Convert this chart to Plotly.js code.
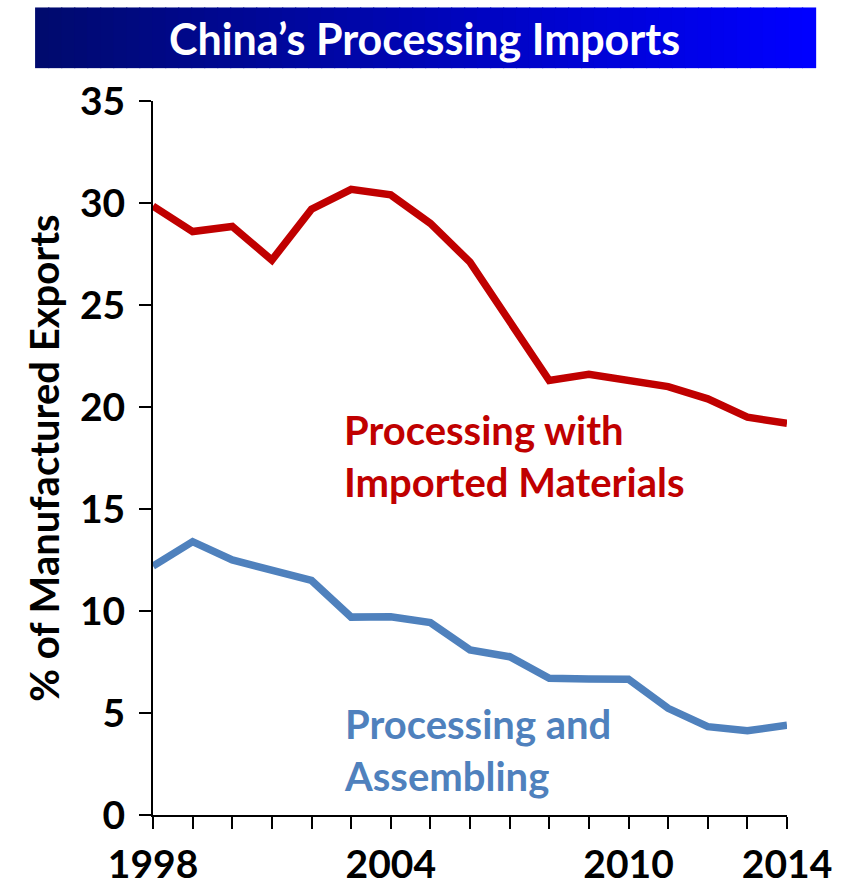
<!DOCTYPE html>
<html>
<head>
<meta charset="utf-8">
<script src="https://cdn.plot.ly/plotly-3.0.1.min.js"></script>
<style>html,body{margin:0;padding:0;background:#fff;}#chart{width:844px;height:889px;}</style>
</head>
<body>
<div id="chart"></div>
<script>
const years = [1998,1999,2000,2001,2002,2003,2004,2005,2006,2007,2008,2009,2010,2011,2012,2013,2014];
const importedMaterials = [29.85,28.6,28.85,27.2,29.7,30.67,30.4,29.0,27.1,24.2,21.3,21.6,21.3,21.0,20.4,19.5,19.2];
const assembling = [12.2,13.4,12.5,12.0,11.5,9.7,9.72,9.43,8.09,7.76,6.7,6.67,6.65,5.23,4.33,4.13,4.4];
const xTickLabels = {1998:'1998',2004:'2004',2010:'2010',2014:'2014'};
const titleText = 'China\u2019s Processing Imports';
const yTitle = '% of Manufactured Exports';
const redLabel = 'Processing with<br>Imported Materials';
const blueLabel = 'Processing and<br>Assembling';

const FONT = 'Lato, "Open Sans", sans-serif';
const RED = '#C00000', BLUE = '#4F81BD';

// banner gradient strips (decoration)
const shapes = [];
const bx0 = -0.186, bx1 = 1.044, by0 = 1.046, by1 = 1.131, N = 60;
for (let i = 0; i < N; i++) {
  const t = i / (N - 1);
  const b = Math.round(110 + (255 - 110) * t);
  const gg = Math.round(10 * (1 - t));
  shapes.push({type:'rect', xref:'paper', yref:'paper', layer:'below',
    x0: bx0 + (bx1 - bx0) * i / N, x1: bx0 + (bx1 - bx0) * (i + 1) / N + 0.002,
    y0: by0, y1: by1, fillcolor: `rgb(0,${gg},${b})`, line:{width:0}});
}

const traces = [
  {x: years, y: importedMaterials, type:'scatter', mode:'lines', line:{color:RED, width:7.5}, cliponaxis:false},
  {x: years, y: assembling, type:'scatter', mode:'lines', line:{color:BLUE, width:7.5}, cliponaxis:false}
];

const tickFont = {size:39, family:FONT, color:'#000', weight:'bold'};
const layout = {
  width:844, height:889,
  margin:{l:153, r:57, t:101, b:74},
  paper_bgcolor:'#fff', plot_bgcolor:'#fff',
  showlegend:false,
  font:{family:FONT, color:'#000'},
  xaxis:{range:[1998,2014], tickmode:'array', tickvals:years,
    ticktext: years.map(y => xTickLabels[y] || ''),
    ticks:'outside', ticklen:12, tickwidth:2, tickcolor:'#000',
    showline:true, linecolor:'#000', linewidth:2, showgrid:false, zeroline:false,
    tickfont:tickFont, ticklabelstandoff:2},
  yaxis:{range:[0,35], tickvals:[0,5,10,15,20,25,30,35],
    ticks:'outside', ticklen:12, tickwidth:2, tickcolor:'#000',
    showline:true, linecolor:'#000', linewidth:2, showgrid:false, zeroline:false,
    tickfont:tickFont, ticklabelstandoff:6,
    title:{text:yTitle, font:{size:40, family:FONT, color:'#000', weight:'bold'}, standoff:8}},
  shapes: shapes,
  annotations:[
    {xref:'paper', yref:'paper', x:0.429, y:1.088, text:titleText, showarrow:false,
      font:{size:43, family:FONT, color:'#fff', weight:'bold'}, xanchor:'center', yanchor:'middle'},
    {xref:'x', yref:'y', x:2002.78, y:17.6, text:redLabel, showarrow:false, align:'left',
      xanchor:'left', yanchor:'middle', font:{size:40, family:FONT, color:RED, weight:'bold'}},
    {xref:'x', yref:'y', x:2002.78, y:3.19, text:blueLabel, showarrow:false, align:'left',
      xanchor:'left', yanchor:'middle', font:{size:40, family:FONT, color:BLUE, weight:'bold'}}
  ]
};
Plotly.newPlot('chart', traces, layout, {displayModeBar:false, staticPlot:true});
</script>
</body>
</html>
